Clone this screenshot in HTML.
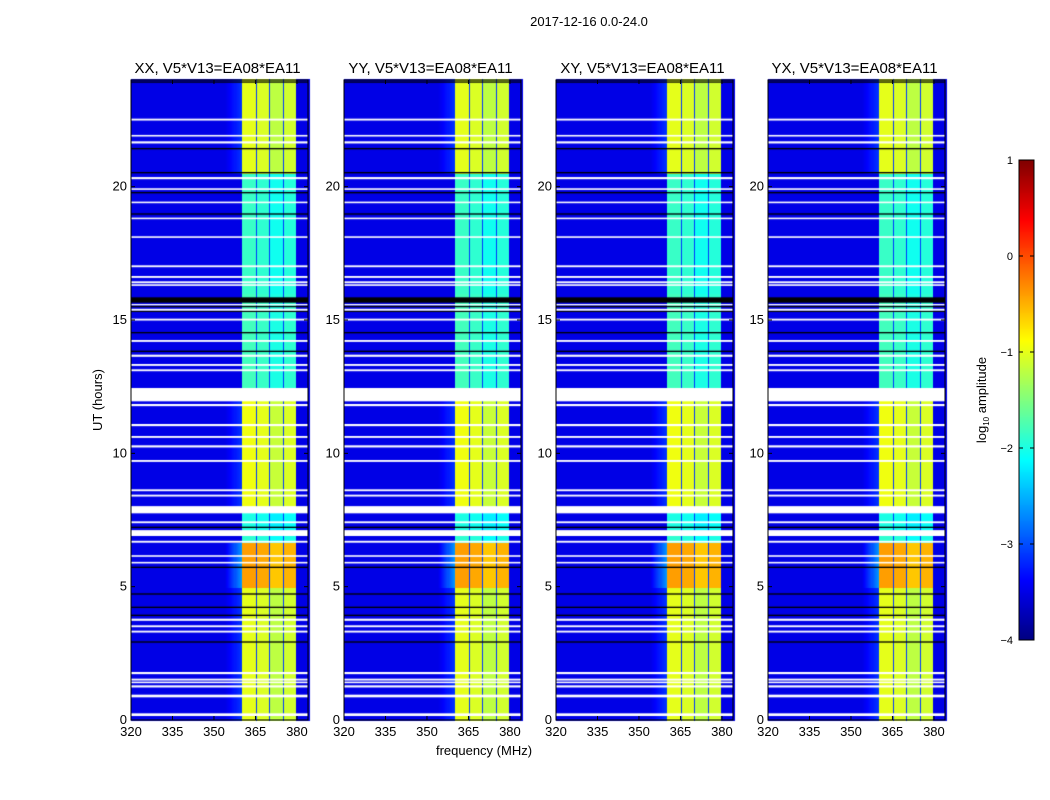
<!DOCTYPE html>
<html><head><meta charset="utf-8"><style>
body{margin:0;background:#fff;font-family:"Liberation Sans",sans-serif}
#wrap{position:relative;width:1050px;height:800px}
canvas,svg{position:absolute;left:0;top:0}
</style></head><body>
<div id="wrap">
<canvas id="cv" width="1050" height="800"></canvas>
<svg id="sv" width="1050" height="800" font-family="Liberation Sans, sans-serif">
<text x="589" y="26" font-size="13" text-anchor="middle">2017-12-16 0.0-24.0</text>
<text x="102" y="400" font-size="13" text-anchor="middle" transform="rotate(-90 102 400)">UT (hours)</text>
<text x="484" y="755" font-size="13" text-anchor="middle">frequency (MHz)</text>
<text x="986" y="400" font-size="13" text-anchor="middle" transform="rotate(-90 986 400)">log<tspan font-size="8" dy="3">10</tspan><tspan dy="-3"> amplitude</tspan></text>
</svg>
</div>
<script>
// ---- data ----
const panelTitles=["XX, V5*V13=EA08*EA11","YY, V5*V13=EA08*EA11","XY, V5*V13=EA08*EA11","YX, V5*V13=EA08*EA11"];
const panelLeft=[131,344,556,768];
const xTicks=[320,335,350,365,380];
const yTicks=[0,5,10,15,20];
const cbTicks=[1,0,-1,-2,-3,-4];
// time segments: [startHour, endHour, band log10 amplitude]
const segStart=[0,5,6.7,7.1,8,12.4,16,20.5];
const segEnd=[5,6.7,7.1,8,12.4,16,20.5,24];
const segLevel=[-1.0,-0.4,-1.9,-2.0,-0.95,-1.8,-1.85,-1.0];
// sub-band offsets (360.5-365,365-370,370-375,375-380)
const subStart=[360.5,365.4,370.4,375.4];
const subEnd=[365,370,375,380];
const subOffset=[0.0,-0.05,-0.2,-0.1];
const bgLevel=-3.5;
const gapLevel=-3.1;
// flagged (white) hour ranges
const flagStart=[0.15,0.85,1.22,1.38,1.48,1.72,3.28,3.48,3.72,5.87,6.12,6.65,6.9,7.38,7.75,8.38,8.58,9.68,10.22,10.58,11.02,11.77,11.95,13.08,13.28,13.62,14.18,14.98,15.35,15.55,16.28,16.38,16.58,16.98,18.08,18.78,19.38,19.88,20.28,21.62,21.88,22.48];
const flagEnd=[0.25,0.95,1.3,1.44,1.55,1.8,3.35,3.55,3.8,5.93,6.18,6.72,7.12,7.45,8.02,8.45,8.65,9.75,10.3,10.65,11.1,11.85,12.45,13.15,13.35,13.7,14.25,15.05,15.42,15.6,16.34,16.45,16.65,17.05,18.14,18.84,19.44,19.94,20.36,21.7,21.94,22.55];
// dark (black) hour ranges
const darkStart=[2.9,3.9,4.2,4.7,5.7,7.2,13.8,14.5,15.3,15.48,15.65,18.95,19.75,20.5,21.4,23.9];
const darkEnd=[2.95,3.95,4.25,4.75,5.75,7.25,13.85,14.55,15.35,15.53,15.85,19.0,19.8,20.55,21.45,23.95];

const X0=320,X1=384,Y0=0,Y1=24,PT=80,PB=720,PW=177;
function sx(p,f){return panelLeft[p]+(f-X0)/(X1-X0)*PW;}
function sy(h){return PB-(h-Y0)/(Y1-Y0)*(PB-PT);}
function jet(v){
  let t=(v+4)/5; t=Math.max(0,Math.min(1,t));
  const r=Math.min(1,Math.max(0,Math.min(4*t-1.5,-4*t+4.5)));
  const g=Math.min(1,Math.max(0,Math.min(4*t-0.5,-4*t+3.5)));
  const b=Math.min(1,Math.max(0,Math.min(4*t+0.5,-4*t+2.5)));
  return `rgb(${Math.round(r*255)},${Math.round(g*255)},${Math.round(b*255)})`;
}
function levelAt(f,h){
  let seg=-1;
  for(let i=0;i<segStart.length;i++) if(h>=segStart[i]&&h<segEnd[i]) seg=i;
  const lv=segLevel[seg<0?0:seg];
  for(let s=0;s<subStart.length;s++){
    if(f>=subStart[s]&&f<subEnd[s]) return lv+subOffset[s];
  }
  if(f>=360.5&&f<380) return gapLevel;
  if(f>=354&&f<360.5&&lv>-0.6) return bgLevel+(f-354)/6.5*0.9;
  if(f>=354&&f<360.5&&lv>-1.2) return bgLevel+(f-354)/6.5*0.4;
  return bgLevel;
}
const cv=document.getElementById('cv'),ctx=cv.getContext('2d');
const df=0.4,dh=0.05;
for(let p=0;p<4;p++){
  for(let f=X0;f<X1;f+=df){
    for(let h=Y0;h<Y1;h+=dh){
      ctx.fillStyle=jet(levelAt(f+df/2,h+dh/2));
      const x=sx(p,f),y=sy(h+dh);
      ctx.fillRect(Math.floor(x),Math.floor(y),Math.ceil(sx(p,f+df)-x)+1,Math.ceil(sy(h)-y)+1);
    }
  }
  ctx.fillStyle='#000';
  for(let i=0;i<darkStart.length;i++){const y=sy(darkEnd[i]);ctx.fillRect(panelLeft[p],y,PW,Math.max(1,sy(darkStart[i])-y));}
  ctx.fillStyle='#fff';
  for(let i=0;i<flagStart.length;i++){const y=sy(flagEnd[i]);ctx.fillRect(panelLeft[p],y,PW,Math.max(1,sy(flagStart[i])-y));}
}
for(let y=160;y<640;y++){ctx.fillStyle=jet(1-(y-160)/480*5);ctx.fillRect(1019,y,15,1);}

const NS='http://www.w3.org/2000/svg',sv=document.getElementById('sv');
function mk(tag,attrs,txt){const e=document.createElementNS(NS,tag);for(const k in attrs)e.setAttribute(k,attrs[k]);if(txt!==undefined)e.textContent=txt;sv.appendChild(e);return e;}
for(let p=0;p<4;p++){
  const L=panelLeft[p];
  const fr=mk('rect',{x:L,y:PT,width:PW,height:PB-PT,fill:'none',stroke:'#000','stroke-width':1});
  
  
  const t=mk('text',{x:L+PW/2-2,y:PT-7,'font-size':15,'text-anchor':'middle'},panelTitles[p]);
  
  
  xTicks.forEach(v=>{
    const x=sx(p,v);
    mk('line',{x1:x,x2:x,y1:PB,y2:PB-4,stroke:'#000'});
    mk('line',{x1:x,x2:x,y1:PT,y2:PT+4,stroke:'#000'});
    const tl=mk('text',{x:x,y:PB+16,'font-size':13,'text-anchor':'middle'},String(v));
    
    
  });
  yTicks.forEach(v=>{
    const y=sy(v);
    mk('line',{x1:L,x2:L+4,y1:y,y2:y,stroke:'#000'});
    mk('line',{x1:L+PW,x2:L+PW-4,y1:y,y2:y,stroke:'#000'});
    const tl=mk('text',{x:L-4,y:y+4,'font-size':13,'text-anchor':'end'},String(v));
    
    
  });
}
const cb=mk('rect',{x:1019,y:160,width:15,height:480,fill:'none',stroke:'#000'});


cbTicks.forEach(v=>{
  const y=160+(1-v)/5*480;
  mk('line',{x1:1019,x2:1023,y1:y,y2:y,stroke:'#000'});
  mk('line',{x1:1034,x2:1030,y1:y,y2:y,stroke:'#000'});
  const tl=mk('text',{x:1013,y:y+4,'font-size':11,'text-anchor':'end'},v<0?'\u2212'+Math.abs(v):String(v));
  
  
});
</script>
</body></html>
